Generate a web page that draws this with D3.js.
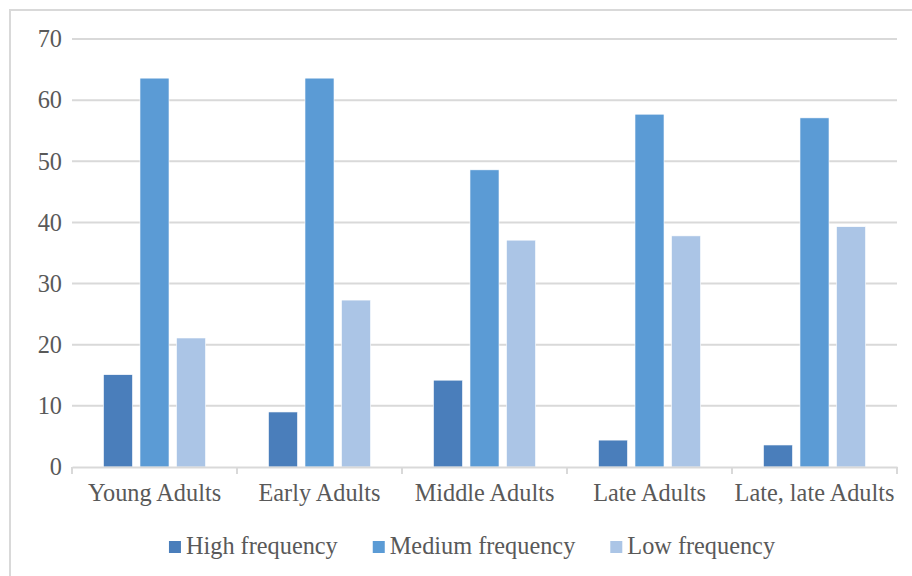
<!DOCTYPE html>
<html>
<head>
<meta charset="utf-8">
<script src="https://cdn.jsdelivr.net/npm/d3@7"></script>
<style>
  html, body { margin: 0; padding: 0; background: #fff; }
  svg { display: block; }
  svg text { font-family: "Liberation Serif", "DejaVu Serif", serif !important; fill: #595959; }
</style>
</head>
<body>
<svg id="chart" width="912" height="576"></svg>
<script>
// Age groups along the x axis
const categories = ["Young Adults", "Early Adults", "Middle Adults", "Late Adults", "Late, late Adults"];
// Series names and their values per age group
const seriesNames = ["High frequency", "Medium frequency", "Low frequency"];
const highFrequency = [15.1, 9.0, 14.2, 4.4, 3.6];
const mediumFrequency = [63.6, 63.6, 48.6, 57.7, 57.1];
const lowFrequency = [21.1, 27.3, 37.1, 37.8, 39.3];
const yTicks = [0, 10, 20, 30, 40, 50, 60, 70];

const seriesValues = [highFrequency, mediumFrequency, lowFrequency];
const colors = ["#4a7ebb", "#5b9bd5", "#abc5e6"];

const svg = d3.select("#chart");
const W = 912, H = 576;
const fontSize = 24.3;
const serif = '"Liberation Serif", "DejaVu Serif", serif';

// outer chart frame
svg.append("rect")
  .attr("x", 10).attr("y", 10)
  .attr("width", W + 20).attr("height", H + 20)
  .attr("fill", "none").attr("stroke", "#d9d9d9").attr("stroke-width", 2);

const plot = { left: 72, right: 897, top: 39, bottom: 467 };

const x = d3.scaleBand().domain(categories).range([plot.left, plot.right]);
const xInner = d3.scaleBand().domain(seriesNames).range([0, x.bandwidth()])
  .paddingInner(0.205).paddingOuter(0.862);
const y = d3.scaleLinear().domain([0, 70]).range([plot.bottom, plot.top]);

// horizontal gridlines
svg.append("g").selectAll("line")
  .data(yTicks.filter(t => t > 0))
  .join("line")
  .attr("x1", plot.left).attr("x2", plot.right)
  .attr("y1", d => y(d)).attr("y2", d => y(d))
  .attr("stroke", "#d9d9d9").attr("stroke-width", 2);

// y axis labels
const yAxis = d3.axisLeft(y).tickValues(yTicks).tickSize(0).tickPadding(10);
const gy = svg.append("g").attr("transform", `translate(${plot.left},0)`).call(yAxis)
  .attr("font-family", serif).attr("font-size", fontSize);
gy.select(".domain").remove();
gy.selectAll("text").attr("fill", "#595959");

// bars
const groups = svg.append("g").selectAll("g")
  .data(categories)
  .join("g")
  .attr("transform", d => `translate(${x(d)},0)`);

groups.selectAll("rect")
  .data((c, i) => seriesNames.map((s, k) => ({ s, k, v: seriesValues[k][i] })))
  .join("rect")
  .attr("x", d => xInner(d.s))
  .attr("width", xInner.bandwidth())
  .attr("y", d => y(d.v))
  .attr("height", d => y(0) - y(d.v))
  .attr("fill", d => colors[d.k])
  .attr("stroke", "#ffffff").attr("stroke-width", 0.6);

// x axis with category separators
const xAxis = d3.axisBottom(x).tickSize(0).tickPadding(17);
const gx = svg.append("g").attr("transform", `translate(0,${plot.bottom})`).call(xAxis)
  .attr("font-family", serif).attr("font-size", fontSize);
gx.select(".domain").attr("stroke", "#d9d9d9").attr("stroke-width", 2);
gx.selectAll("text").attr("fill", "#595959");
const bounds = categories.map(c => x(c)).concat([x.range()[1]]);
gx.selectAll(".sep")
  .data(bounds)
  .join("line")
  .attr("class", "sep")
  .attr("x1", d => d).attr("x2", d => d)
  .attr("y1", 0).attr("y2", 7)
  .attr("stroke", "#d9d9d9").attr("stroke-width", 2);

// legend
const legend = svg.append("g").attr("font-family", serif).attr("font-size", fontSize);
const items = legend.selectAll("g").data(seriesNames).join("g");
items.append("rect")
  .attr("width", 12).attr("height", 12)
  .attr("y", -13)
  .attr("fill", (d, i) => colors[i]);
items.append("text")
  .attr("x", 17)
  .attr("y", 0)
  .text(d => d);
let cx = 0;
const gap = 35;
items.each(function () {
  const w = 17 + this.querySelector("text").getComputedTextLength();
  d3.select(this).attr("transform", `translate(${cx},0)`);
  cx += w + gap;
});
const total = cx - gap;
legend.attr("transform", `translate(${472 - total / 2},554)`);
</script>
</body>
</html>
